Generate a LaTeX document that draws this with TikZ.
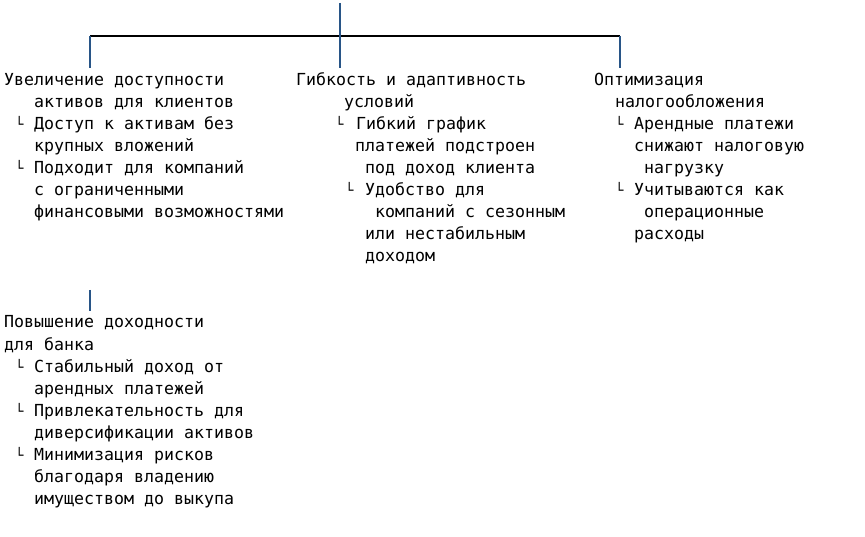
\documentclass[tikz,border=0pt]{standalone}
\usepackage{fontspec}
\newfontfamily\treefont{DejaVu Sans Mono}
\definecolor{linkblue}{RGB}{40,85,135}
\begin{document}
\begin{tikzpicture}[x=1bp,y=-1bp,
  txt/.style={anchor=base west, inner sep=0pt, font=\treefont\fontsize{16.6bp}{20bp}\selectfont},
  branchmark/.style={anchor=base west, inner sep=0pt, font=\treefont\fontsize{14bp}{16bp}\selectfont},
  hlink/.style={draw=black, line width=1.5bp},
  vlink/.style={draw=linkblue, line width=2bp}]
\useasboundingbox (0,0) rectangle (865,537);
% connector points
\coordinate (rootbot) at (340,3);
\coordinate (jL) at (90,36);
\coordinate (jM) at (340,36);
\coordinate (jR) at (620,36);
\coordinate (eL) at (90,68);
\coordinate (eM) at (340,68);
\coordinate (eR) at (620,68);
\coordinate (bTop) at (90,290);
\coordinate (bBot) at (90,311);
\draw[hlink] (jL) -- (jR);
\draw[vlink] (rootbot) -- (eM);
\draw[vlink] (jL) -- (eL);
\draw[vlink] (jR) -- (eR);
\draw[vlink] (bTop) -- (bBot);
% column 1
\node[txt] (a1) at (4,86) {Увеличение доступности};
\node[txt] (a2) at (34,108) {активов для клиентов};
\node[branchmark] (am1) at (15,130) {└};
\node[txt] (a3) at (34,130) {Доступ к активам без};
\node[txt] (a4) at (34,152) {крупных вложений};
\node[branchmark] (am2) at (15,174) {└};
\node[txt] (a5) at (34,174) {Подходит для компаний};
\node[txt] (a6) at (34,196) {с ограниченными};
\node[txt] (a7) at (34,218) {финансовыми возможностями};
% column 2
\node[txt] (b1) at (296,86) {Гибкость и адаптивность};
\node[txt] (b2) at (344,108) {условий};
\node[branchmark] (bm1) at (335,130) {└};
\node[txt] (b3) at (356,130) {Гибкий график};
\node[txt] (b4) at (355,152) {платежей подстроен};
\node[txt] (b5) at (365,174) {под доход клиента};
\node[branchmark] (bm2) at (345,196) {└};
\node[txt] (b6) at (365,196) {Удобство для};
\node[txt] (b7) at (375,218) {компаний с сезонным};
\node[txt] (b8) at (365,240) {или нестабильным};
\node[txt] (b9) at (365,262) {доходом};
% column 3
\node[txt] (c1) at (594,86) {Оптимизация};
\node[txt] (c2) at (615,108) {налогообложения};
\node[branchmark] (cm1) at (615,130) {└};
\node[txt] (c3) at (634,130) {Арендные платежи};
\node[txt] (c4) at (634,152) {снижают налоговую};
\node[txt] (c5) at (644,174) {нагрузку};
\node[branchmark] (cm2) at (615,196) {└};
\node[txt] (c6) at (634,196) {Учитываются как};
\node[txt] (c7) at (644,218) {операционные};
\node[txt] (c8) at (634,240) {расходы};
% column 4
\node[txt] (d1) at (4,328) {Повышение доходности};
\node[txt] (d2) at (4,350) {для банка};
\node[branchmark] (dm1) at (15,372) {└};
\node[txt] (d3) at (34,372) {Стабильный доход от};
\node[txt] (d4) at (34,394) {арендных платежей};
\node[branchmark] (dm2) at (15,416) {└};
\node[txt] (d5) at (34,416) {Привлекательность для};
\node[txt] (d6) at (34,438) {диверсификации активов};
\node[branchmark] (dm3) at (15,460) {└};
\node[txt] (d7) at (34,460) {Минимизация рисков};
\node[txt] (d8) at (34,482) {благодаря владению};
\node[txt] (d9) at (34,504) {имуществом до выкупа};
\end{tikzpicture}
\end{document}
